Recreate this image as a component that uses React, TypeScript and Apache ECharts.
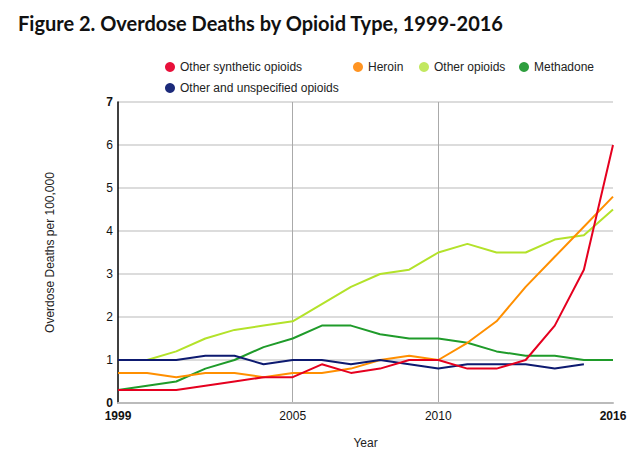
import React, { useEffect, useRef } from "react";
import * as echarts from "echarts";

const years = [
  "1999", "2000", "2001", "2002", "2003", "2004", "2005", "2006", "2007",
  "2008", "2009", "2010", "2011", "2012", "2013", "2014", "2015", "2016",
];
const shownYears = ["1999", "2005", "2010", "2016"];
const gridYears = ["2005", "2010"];

const otherSynthetic = [0.3, 0.3, 0.3, 0.4, 0.5, 0.6, 0.6, 0.9, 0.7, 0.8, 1.0, 1.0, 0.8, 0.8, 1.0, 1.8, 3.1, 6.0];
const heroin = [0.7, 0.7, 0.6, 0.7, 0.7, 0.6, 0.7, 0.7, 0.8, 1.0, 1.1, 1.0, 1.4, 1.9, 2.7, 3.4, 4.1, 4.8];
const otherOpioids = [1.0, 1.0, 1.2, 1.5, 1.7, 1.8, 1.9, 2.3, 2.7, 3.0, 3.1, 3.5, 3.7, 3.5, 3.5, 3.8, 3.9, 4.5];
const methadone = [0.3, 0.4, 0.5, 0.8, 1.0, 1.3, 1.5, 1.8, 1.8, 1.6, 1.5, 1.5, 1.4, 1.2, 1.1, 1.1, 1.0, 1.0];
const otherUnspecified = [1.0, 1.0, 1.0, 1.1, 1.1, 0.9, 1.0, 1.0, 0.9, 1.0, 0.9, 0.8, 0.9, 0.9, 0.9, 0.8, 0.9, null];

const seriesNames = [
  "Other synthetic opioids",
  "Heroin",
  "Other opioids",
  "Methadone",
  "Other and unspecified opioids",
];
const seriesColors = ["#e5001f", "#ff8f00", "#b3e22a", "#1f9b2a", "#0d1a70"];
const legendColors = ["#e8103a", "#ff9422", "#c2e860", "#2e9e3e", "#1c2a7a"];

const FONT = "Arial";

export default function App() {
  const ref = useRef<HTMLDivElement>(null);

  useEffect(() => {
    if (!ref.current) return;
    const chart = echarts.init(ref.current, null, { renderer: "svg" });
    const dataSets = [otherSynthetic, heroin, otherOpioids, methadone, otherUnspecified];
    const order = [2, 3, 1, 4, 0];
    const legendPos = [
      { left: 165, top: 61 },
      { left: 353, top: 61 },
      { left: 419, top: 61 },
      { left: 519, top: 61 },
      { left: 165, top: 82 },
    ];
    const option: any = {
      animation: false,
      backgroundColor: "#ffffff",
      textStyle: { fontFamily: FONT },
      title: {
        text: "Figure 2. Overdose Deaths by Opioid Type, 1999-2016",
        left: 13,
        top: 8,
        textStyle: {
          fontFamily: "Lato",
          fontWeight: "bold",
          fontSize: 20,
          color: "#111111",
        },
      },
      legend: seriesNames.map((n, i) => ({
        data: [{ name: n, itemStyle: { color: legendColors[i] } }],
        left: legendPos[i].left,
        top: legendPos[i].top,
        icon: "circle",
        itemWidth: 10,
        itemHeight: 10,
        padding: 0,
        selectedMode: false,
        textStyle: { fontFamily: FONT, fontSize: 12, color: "#222222" },
      })),
      grid: { left: 118, right: 27, top: 102, bottom: 43, containLabel: false },
      xAxis: {
        type: "category",
        data: years,
        boundaryGap: false,
        name: "Year",
        nameLocation: "middle",
        nameGap: 34,
        nameTextStyle: { fontFamily: FONT, fontSize: 12, color: "#222222" },
        axisLine: { show: true, lineStyle: { color: "#bbbbbb", width: 2 } },
        axisTick: { show: false },
        axisLabel: {
          interval: (idx: number, val: string) => shownYears.includes(val),
          margin: 7,
          fontFamily: FONT,
          fontSize: 12,
          color: "#111111",
          formatter: (val: string) =>
            val === years[0] || val === years[years.length - 1] ? `{b|${val}}` : val,
          rich: { b: { fontWeight: "bold", fontFamily: FONT, fontSize: 12, color: "#111111" } },
        },
        splitLine: {
          show: true,
          interval: (idx: number, val: string) => gridYears.includes(val),
          lineStyle: { color: "#aaaaaa", width: 1 },
        },
      },
      yAxis: {
        type: "value",
        min: 0,
        max: 7,
        interval: 1,
        name: "Overdose Deaths per 100,000",
        nameLocation: "middle",
        nameGap: 62,
        nameTextStyle: { fontFamily: FONT, fontSize: 12, color: "#222222" },
        axisLine: { show: true, lineStyle: { color: "#000000", width: 1.5 } },
        axisTick: { show: false },
        axisLabel: {
          margin: 5,
          fontFamily: FONT,
          fontSize: 12,
          color: "#111111",
          formatter: (v: number) => (v === 0 || v === 7 ? `{b|${v}}` : `${v}`),
          rich: { b: { fontWeight: "bold", fontFamily: FONT, fontSize: 12, color: "#111111" } },
        },
        splitLine: { show: true, lineStyle: { color: "#d0d0d0", width: 1.5 } },
      },
      series: order.map((i) => ({
        name: seriesNames[i],
        type: "line",
        data: dataSets[i],
        showSymbol: false,
        symbol: "none",
        connectNulls: false,
        color: seriesColors[i],
        lineStyle: { color: seriesColors[i], width: 2 },
        z: 3 + order.indexOf(i),
      })),
    };
    chart.setOption(option);
    return () => chart.dispose();
  }, []);

  return <div ref={ref} style={{ width: 640, height: 454, position: "absolute", left: 0, top: 0 }} />;
}
